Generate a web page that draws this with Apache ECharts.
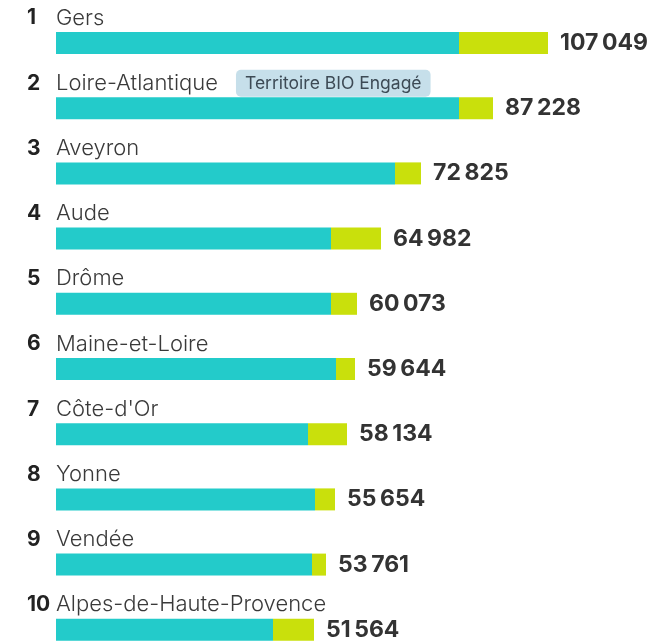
<!DOCTYPE html>
<html>
<head>
<meta charset="UTF-8">
<title>Top 10 départements</title>
<script src="https://cdn.jsdelivr.net/npm/echarts@6/dist/echarts.min.js"></script>
<style>
  html, body { margin: 0; padding: 0; background: #fff; }
  #chart { width: 649px; height: 641px; }
</style>
</head>
<body>
<div id="chart"></div>
<script>
// rangs et noms des départements
var ranks = ['1', '2', '3', '4', '5', '6', '7', '8', '9', '10'];
var names = ['Gers', 'Loire-Atlantique', 'Aveyron', 'Aude', 'Drôme', 'Maine-et-Loire',
             "Côte-d'Or", 'Yonne', 'Vendée', 'Alpes-de-Haute-Provence'];
// valeurs affichées à droite des barres
var totals = [107049, 87228, 72825, 64982, 60073, 59644, 58134, 55654, 53761, 51564];
// segments (turquoise / vert-jaune)
var partA = [80600, 80600, 67800, 55000, 55000, 56000, 50400, 51800, 51200, 43400];
var partB = [17800, 6800, 5200, 10000, 5200, 3800, 7800, 4000, 2800, 8200];
// badge affiché à côté du nom
var badges = ['', 'Territoire BIO Engagé', '', '', '', '', '', '', '', ''];

function fmt(n) {
  return String(n).replace(/\B(?=(\d{3})+(?!\d))/g, '\u2009');
}

var myChart = echarts.init(document.getElementById('chart'));

var option = {
  backgroundColor: '#fff',
  animation: false,
  grid: { left: 56, top: 10.4, width: 500, height: 652, outerBoundsMode: 'none' },
  xAxis: { type: 'value', min: 0, max: 100000, show: false },
  yAxis: { type: 'category', data: names, inverse: true, show: false },
  series: [
    {
      type: 'bar',
      stack: 'tot',
      barWidth: 22,
      data: partA,
      itemStyle: { color: '#23cbca' },
      label: {
        show: true,
        position: [-29, -14],
        align: 'left',
        verticalAlign: 'middle',
        formatter: function (p) {
          var s = '{r|' + ranks[p.dataIndex] + '}{n|' + names[p.dataIndex] + '}';
          if (badges[p.dataIndex]) s += '{g|}{b|' + badges[p.dataIndex] + '}';
          return s;
        },
        rich: {
          r: { width: 29, fontFamily: 'Inter', fontWeight: 'bold', fontSize: 21, color: '#222' },
          n: { fontFamily: 'Inter', fontWeight: 300, fontSize: 22, color: '#3a3a3a' },
          g: { width: 18 },
          b: {
            fontFamily: 'Inter', fontSize: 17.5, color: '#3d4a55', lineHeight: 18,
            backgroundColor: '#c6dfea', borderRadius: 5,
            padding: [5, 9, 4, 9]
          }
        }
      }
    },
    {
      type: 'bar',
      stack: 'tot',
      barWidth: 22,
      data: partB,
      itemStyle: { color: '#c9e00c' },
      label: {
        show: true,
        position: 'right',
        distance: 12,
        formatter: function (p) { return fmt(totals[p.dataIndex]); },
        fontFamily: 'Inter',
        fontWeight: 'bold',
        fontSize: 23,
        color: '#333'
      }
    }
  ]
};

myChart.setOption(option);
</script>
</body>
</html>
